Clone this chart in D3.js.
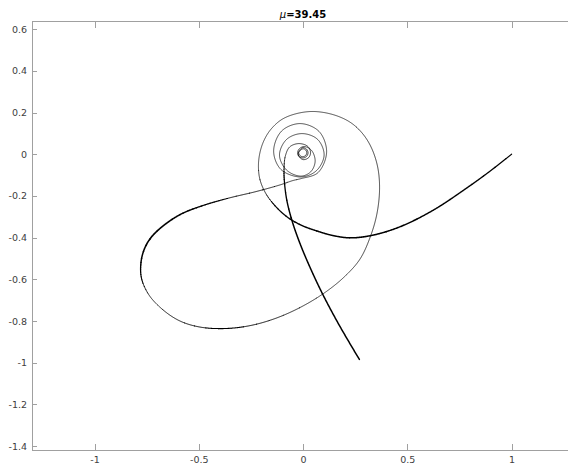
<!DOCTYPE html>
<html>
<head>
<meta charset="utf-8">
<script src="https://cdn.jsdelivr.net/npm/d3@7"></script>
<style>
  body { margin: 0; background: #fff; }
  svg { display: block; }
</style>
</head>
<body>
<svg id="chart" width="568" height="465"></svg>
<script>
// Trajectory samples, in plot units, ordered from the start at (1, 0)
// through the outer loops, into the spiral and out to the lower end.
const curveX = [
  1.000, 0.897, 0.785, 0.625, 0.465, 0.331, 0.225, 0.139, 0.066, -0.005,
  -0.072, -0.129, -0.177, -0.206, -0.214, -0.206, -0.185, -0.153, -0.103, -0.038,
  0.048, 0.144, 0.225, 0.283, 0.326, 0.357, 0.367, 0.355, 0.324, 0.273,
  0.197, 0.101, -0.014, -0.134, -0.254, -0.374, -0.494, -0.590, -0.671, -0.739,
  -0.775, -0.777, -0.760, -0.727, -0.669, -0.585, -0.480, -0.355, -0.225, -0.110,
  -0.048, -0.010,
  0.072, 0.113, 0.077, -0.014, -0.103, -0.141, -0.106, -0.010,
  0.065, 0.101, 0.070, -0.005, -0.079, -0.113, -0.079, -0.010,
  0.038, 0.058, 0.041, 0.005,
  -0.019, -0.026, -0.019, -0.001, 0.016, 0.024, 0.016, -0.001,
  -0.015, -0.021, -0.015, -0.001, 0.012, 0.018, 0.012, -0.001,
  -0.023, -0.015, 0.002, 0.027, 0.036, 0.022, -0.021, -0.064, -0.085, -0.091,
  -0.090, -0.078, -0.051, -0.012, 0.039, 0.096, 0.173, 0.270
];
const curveY = [
  0.000, -0.081, -0.162, -0.268, -0.348, -0.389, -0.401, -0.389, -0.368, -0.342,
  -0.304, -0.253, -0.191, -0.124, -0.057, 0.011, 0.071, 0.121, 0.166, 0.193,
  0.205, 0.190, 0.154, 0.102, 0.035, -0.057, -0.162, -0.282, -0.392, -0.503,
  -0.589, -0.666, -0.735, -0.788, -0.822, -0.836, -0.829, -0.800, -0.747, -0.675,
  -0.594, -0.517, -0.452, -0.397, -0.342, -0.287, -0.246, -0.210, -0.179, -0.147,
  -0.126, -0.117,
  -0.088, 0.011, 0.109, 0.147, 0.111, 0.015, -0.073, -0.109,
  -0.078, -0.004, 0.071, 0.099, 0.071, -0.004, -0.076, -0.105,
  -0.083, -0.033, 0.018, 0.037,
  0.025, 0.007, -0.011, -0.018, -0.011, 0.007, 0.025, 0.032,
  0.021, 0.007, -0.006, -0.012, -0.006, 0.007, 0.021, 0.026,
  0.005, -0.016, -0.026, -0.016, 0.009, 0.038, 0.051, 0.035, -0.009, -0.066,
  -0.124, -0.220, -0.325, -0.435, -0.555, -0.675, -0.819, -0.984
];

const xTicks = [-1, -0.5, 0, 0.5, 1];
const xTickLabels = ["-1", "-0.5", "0", "0.5", "1"];
const yTicks = [-1.4, -1.2, -1, -0.8, -0.6, -0.4, -0.2, 0, 0.2, 0.4, 0.6];
const yTickLabels = ["-1.4", "-1.2", "-1", "-0.8", "-0.6", "-0.4", "-0.2", "0", "0.2", "0.4", "0.6"];

const titleSymbol = "\u03bc";
const titleValue = "=39.45";

// ---- layout & styling ----
const xDomain = [-1.3, 1.3];
const yDomain = [-1.42, 0.635];
const plot = { left: 32, top: 21.8, bottom: 450.3 };
const unit = 208.5; // px per unit, equal on both axes
const x = d3.scaleLinear().domain(xDomain).range([plot.left, plot.left + (xDomain[1] - xDomain[0]) * unit]);
const y = d3.scaleLinear().domain(yDomain).range([plot.bottom, plot.bottom - (yDomain[1] - yDomain[0]) * unit]);

// stroke width along the path, keyed by sample index: [index, width]
const widthKeys = [
  [0, 1.2], [2, 1.4], [5, 1.55], [9, 1.45], [11, 1.15], [12, 0.85], [14, 0.7],
  [31, 0.75], [33, 0.9], [35, 1.1], [37, 0.9], [39, 0.85], [40, 1.1], [41, 1.45],
  [43, 1.65], [45, 1.55], [46, 1.3], [47, 1.0], [49, 0.8], [51, 0.7],
  [96, 0.75], [97, 0.95], [98, 1.25], [100, 1.5], [105, 1.5]
];

const axisColor = "#a0a0a0";
const labelColor = "#404040";
const fontFamily = "'DejaVu Sans', sans-serif";

const svg = d3.select("#chart");

// axes box (left, top, bottom; the right side lies past the window)
const xEnd = 568;
const box = svg.append("g").attr("stroke", axisColor).attr("stroke-width", 1)
  .attr("shape-rendering", "crispEdges");
box.append("line").attr("x1", plot.left).attr("x2", plot.left).attr("y1", plot.top).attr("y2", plot.bottom);
box.append("line").attr("x1", plot.left).attr("x2", xEnd).attr("y1", plot.top).attr("y2", plot.top);
box.append("line").attr("x1", plot.left).attr("x2", xEnd).attr("y1", plot.bottom).attr("y2", plot.bottom);

function styleAxis(g) {
  g.select(".domain").remove();
  g.selectAll(".tick line").attr("stroke", axisColor).attr("shape-rendering", "crispEdges");
  g.selectAll(".tick text").attr("fill", labelColor)
    .attr("font-family", fontFamily).attr("font-size", 9.5);
}

// bottom axis, ticks pointing into the plot
svg.append("g")
  .attr("transform", `translate(0,${plot.bottom})`)
  .call(d3.axisBottom(x).tickValues(xTicks)
    .tickFormat((d, i) => xTickLabels[i])
    .tickSizeInner(-6).tickSizeOuter(0).tickPadding(6))
  .call(styleAxis);

// top axis: ticks only
svg.append("g")
  .attr("transform", `translate(0,${plot.top})`)
  .call(d3.axisTop(x).tickValues(xTicks).tickFormat("")
    .tickSizeInner(-6).tickSizeOuter(0))
  .call(styleAxis);

// left axis
svg.append("g")
  .attr("transform", `translate(${plot.left},0)`)
  .call(d3.axisLeft(y).tickValues(yTicks)
    .tickFormat((d, i) => yTickLabels[i])
    .tickSizeInner(-5).tickSizeOuter(0).tickPadding(5))
  .call(styleAxis);

// ---- the trajectory, drawn with a stroke width that varies along it ----
const n = curveX.length;
const idx = d3.range(n);
const smooth = d3.line()
  .x(i => x(curveX[i]))
  .y(i => y(curveY[i]))
  .curve(d3.curveCatmullRom.alpha(0.5));

const guide = svg.append("path").attr("d", smooth(idx))
  .attr("fill", "none").attr("stroke", "none");
const node = guide.node();
const total = node.getTotalLength();
const step = 0.6;
const pts = [];
for (let s = 0; s < total; s += step) {
  const p = node.getPointAtLength(s);
  pts.push([p.x, p.y]);
}
const pEnd = node.getPointAtLength(total);
pts.push([pEnd.x, pEnd.y]);
guide.remove();

// where each data vertex falls among the resampled points
const vAt = [0];
for (let i = 1; i < n; i++) {
  const vx = x(curveX[i]), vy = y(curveY[i]);
  const chord = Math.hypot(vx - x(curveX[i - 1]), vy - y(curveY[i - 1]));
  const from = vAt[i - 1] + 1;
  const to = Math.min(pts.length - 1, from + Math.ceil((chord * 1.8 + 4) / step));
  let best = from, bd = Infinity;
  for (let k = from; k <= to; k++) {
    const d = Math.hypot(pts[k][0] - vx, pts[k][1] - vy);
    if (d < bd) { bd = d; best = k; }
  }
  vAt.push(best);
}
vAt[n - 1] = pts.length - 1;

const widthAt = d3.scaleLinear()
  .domain(widthKeys.map(k => k[0]))
  .range(widthKeys.map(k => k[1]))
  .clamp(true);

// fractional vertex position of every resampled point
const ptW = new Array(pts.length);
for (let i = 0; i < n - 1; i++) {
  const a = vAt[i], b = vAt[i + 1];
  for (let k = a; k <= b; k++) {
    const t = b > a ? (k - a) / (b - a) : 0;
    ptW[k] = widthAt(i + t);
  }
}

// group consecutive points of the same (quantized) width into runs
const q = w => Math.round(w / 0.05) * 0.05;
const runs = [];
let cur = { w: q(ptW[0]), pts: [pts[0]] };
for (let k = 1; k < pts.length; k++) {
  const w = q(ptW[k]);
  cur.pts.push(pts[k]);
  if (w !== cur.w) {
    runs.push(cur);
    cur = { w, pts: [pts[k]] };
  }
}
runs.push(cur);

const poly = d3.line();
svg.append("g")
  .attr("fill", "none").attr("stroke", "#000")
  .attr("stroke-linecap", "round").attr("stroke-linejoin", "round")
  .selectAll("path")
  .data(runs.filter(r => r.pts.length > 1))
  .join("path")
  .attr("d", r => poly(r.pts))
  .attr("stroke-width", r => r.w);

// title
const title = svg.append("text")
  .attr("x", (x(xDomain[0]) + x(xDomain[1])) / 2)
  .attr("y", 18)
  .attr("text-anchor", "middle")
  .attr("font-family", fontFamily)
  .attr("font-size", 10)
  .attr("fill", "#000");
title.append("tspan").attr("font-style", "italic").text(titleSymbol);
title.append("tspan").attr("font-weight", "bold").text(titleValue);
</script>
</body>
</html>
